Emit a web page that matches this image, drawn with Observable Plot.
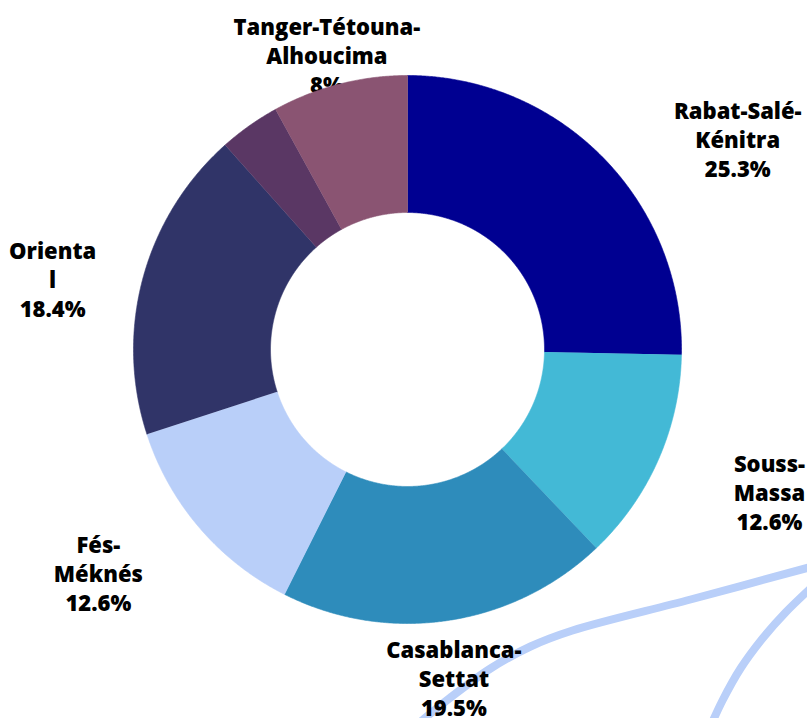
<!DOCTYPE html>
<html>
<head>
<meta charset="utf-8">
<script src="https://cdn.jsdelivr.net/npm/d3@7"></script>
<script src="https://cdn.jsdelivr.net/npm/@observablehq/plot@0.6"></script>
<style>
  html, body { margin: 0; padding: 0; background: #fff; overflow: hidden; }
  #chart { width: 807px; height: 718px; }
</style>
</head>
<body>
<div id="chart"></div>
<script>
// ---- data ----
const regions = ["Rabat-Salé-Kénitra", "Souss-Massa", "Casablanca-Settat", "Fés-Méknès", "Oriental", "Autres", "Tanger-Tétouna-Alhoucima"];
const shares = [25.3, 12.6, 19.5, 12.6, 18.4, 3.6, 8];
const labelText = ["Rabat-Salé-\nKénitra\n25.3%", "Souss-\nMassa\n12.6%", "Casablanca-\nSettat\n19.5%", "Fés-\nMéknés\n12.6%", "Orienta\nl\n18.4%", "", "Tanger-Tétouna-\nAlhoucima\n8%"];

// ---- styles / layout ----
const colors = ["#000091", "#43b9d6", "#2e8cbb", "#b9cff9", "#303468", "#5a3764", "#8a5472"];
const W = 807, H = 718, CX = 407, CY = 349, R = 274, INNER = 0.5, LABEL_R = 1.3;
const labelNudge = [[76, 39], [36, -1], [-6, -24], [-39, -9], [-11, 22], [0, 0], [8, 50]]; // px

// ---- geometry ----
const total = d3.sum(shares);
let acc = 0;
const slices = shares.map((v, i) => {
  const a0 = acc / total * 2 * Math.PI;
  acc += v;
  const a1 = acc / total * 2 * Math.PI;
  return {name: regions[i], a0, a1, i};
});
const ring = [];
for (const s of slices) {
  const n = Math.max(2, Math.ceil((s.a1 - s.a0) / 0.005));
  const angles = d3.range(n + 1).map(k => s.a0 + (s.a1 - s.a0) * k / n);
  for (const a of angles) ring.push({name: s.name, x: Math.sin(a), y: Math.cos(a)});
  for (const a of angles.slice().reverse()) ring.push({name: s.name, x: INNER * Math.sin(a), y: INNER * Math.cos(a)});
}
const labels = slices.filter(s => labelText[s.i]).map(s => {
  const m = (s.a0 + s.a1) / 2;
  return {
    text: labelText[s.i],
    x: LABEL_R * Math.sin(m) + labelNudge[s.i][0] / R,
    y: LABEL_R * Math.cos(m) - labelNudge[s.i][1] / R
  };
});

// decorative background strokes (pixel space -> chart units)
const toU = ([px, py], k) => ({k, x: (px - CX) / R, y: (CY - py) / R});
const decor = [
  ...[[412, 728], [450, 697], [490, 668], [530, 646], [572, 630], [690, 599], [812, 566]].map(p => toU(p, 0)),
  ...[[709, 728], [722, 700], [740, 668], [762, 638], [785, 612], [812, 586]].map(p => toU(p, 1))
];

const chart = Plot.plot({
  width: W, height: H,
  margin: 0,
  style: {background: "#fff", overflow: "hidden"},
  x: {domain: [-CX / R, (W - CX) / R], axis: null},
  y: {domain: [-(H - CY) / R, CY / R], axis: null},
  color: {type: "ordinal", domain: regions, range: colors},
  marks: [
    Plot.line(decor, {x: "x", y: "y", z: "k", stroke: "#b9cff9", strokeWidth: 8, curve: "catmull-rom", clip: true}),
    Plot.text(labels, {x: "x", y: "y", text: "text", fontSize: 22, fontWeight: 800, fontFamily: "Open Sans", lineHeight: 1.32, fill: "#000", textAnchor: "middle"}),
    Plot.line(ring, {x: "x", y: "y", z: "name", fill: "name", stroke: "name", strokeWidth: 0.6, curve: "linear"})
  ]
});
document.getElementById("chart").appendChild(chart);
</script>
</body>
</html>
